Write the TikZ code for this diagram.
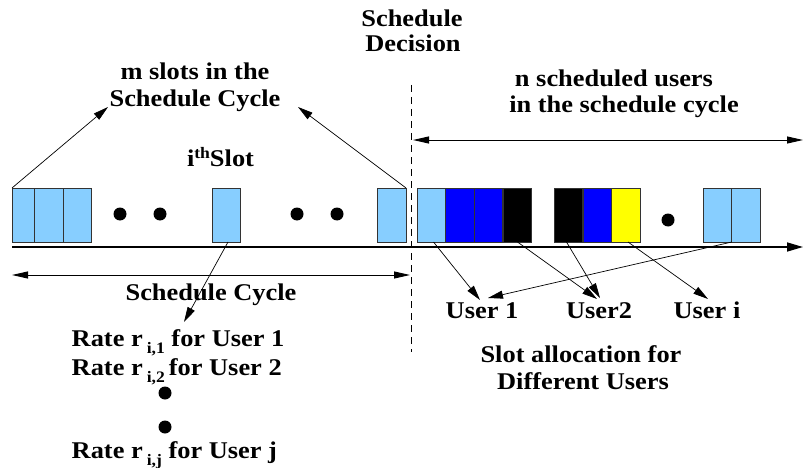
\documentclass[tikz,border=0pt]{standalone}
\usepackage{fontspec}
\setmainfont{Liberation Serif}[FakeStretch=1.1]
\usetikzlibrary{arrows.meta}
\definecolor{lb}{HTML}{87CEFF}
\definecolor{bl}{HTML}{0000FF}
\definecolor{yl}{HTML}{FFFF00}
\definecolor{edge}{HTML}{333333}
\newcommand{\subs}[1]{\raisebox{-7pt}{\fontsize{16}{16}\selectfont #1}}
\begin{document}
\begin{tikzpicture}[x=1pt,y=-1pt,
  font=\fontsize{24}{27}\selectfont\bfseries,
  slotbox/.style={draw=edge, line width=0.8pt, inner sep=0pt, outer sep=0pt, minimum height=54pt, minimum width=#1},
  slotbox/.default=28.5pt,
  dotn/.style={circle, fill=black, inner sep=0pt, minimum size=13pt},
  txt/.style={inner sep=0pt, anchor=base},
  arr/.style={line width=0.7pt, -{Triangle[length=15pt,width=8pt]}},
  darr/.style={line width=0.9pt, {Triangle[length=16pt,width=7pt]}-{Triangle[length=16pt,width=7pt]}}
]
\useasboundingbox (0,0) rectangle (803,468);

% left slots
\node[slotbox=28pt, fill=lb] (b1) at (26,215) {};
\node[slotbox=29pt, fill=lb] (b2) at (48.5,215) {};
\node[slotbox=28pt, fill=lb] (b3) at (77,215) {};
\node[slotbox=28pt, fill=lb] (b4) at (226,215) {};
\node[slotbox=29pt, fill=lb] (b5) at (391.5,215) {};
\node[dotn] (d1) at (120,214) {};
\node[dotn] (d2) at (160,214) {};
\node[dotn] (d3) at (297,214) {};
\node[dotn] (d4) at (337,214) {};

% right slots
\node[slotbox, fill=lb] (r1) at (431.5,215) {};
\node[slotbox, fill=bl] (r2) at (460,215) {};
\node[slotbox, fill=bl] (r3) at (488.5,215) {};
\node[slotbox, fill=black] (r4) at (517.5,215) {};
\node[slotbox, fill=black] (r5) at (568.5,215) {};
\node[slotbox, fill=bl] (r6) at (597.5,215) {};
\node[slotbox, fill=yl] (r7) at (626,215) {};
\node[dotn] (d5) at (668,220) {};
\node[slotbox, fill=lb] (r8) at (717.5,215) {};
\node[slotbox, fill=lb] (r9) at (746,215) {};

% axis
\coordinate (ax0) at (12,247);
\coordinate (ax1) at (803,247);
\draw[line width=1.6pt, -{Triangle[length=16pt,width=9pt]}] (ax0) -- (ax1);

% schedule decision dashed line
\coordinate (dt) at (411.5,85);
\coordinate (db) at (411.5,352);
\draw[line width=1pt, dash pattern=on 7pt off 5pt] (dt) -- (db);

% double arrows
\coordinate (sc0) at (12,275);
\coordinate (sc1) at (410,275);
\draw[darr] (sc0) -- (sc1);
\coordinate (nu0) at (413,140);
\coordinate (nu1) at (803,140);
\draw[darr] (nu0) -- (nu1);

% texts
\node[txt] (sd1) at (412,27) {Schedule};
\node[txt] (sd2) at (413,52) {Decision};
\node[txt] (ms1) at (195,80) {m slots in the};
\node[txt] (ms2) at (195,107) {Schedule Cycle};
\node[txt] (ith) at (220.5,167) {i\raisebox{9pt}{\fontsize{16}{16}\selectfont th}Slot};
\node[txt] (nu1t) at (614,87) {n scheduled users};
\node[txt] (nu2t) at (624,113) {in the schedule cycle};
\node[txt] (sct) at (211,300) {Schedule Cycle};
\node[txt, anchor=base west] (rt1) at (71.5,346.5) {Rate r\,\subs{i,1} for User 1};
\node[txt, anchor=base west] (rt2) at (71.5,375) {Rate r\,\subs{i,2}\,for User 2};
\node[dotn] (d6) at (165,393) {};
\node[dotn] (d7) at (165,427) {};
\node[txt, anchor=base west] (rt3) at (71.5,458) {Rate r\,\subs{i,j} for User j};
\node[txt] (u1) at (482,318) {User 1};
\node[txt] (u2) at (599,318) {User2};
\node[txt] (ui) at (707,318) {User i};
\node[txt] (sa1) at (581,362) {Slot allocation for};
\node[txt] (sa2) at (583,389) {Different Users};

% top arrows
\coordinate (ma) at (108,107);
\coordinate (mb) at (298,107);
\draw[arr] (b1.north west) -- (ma);
\draw[arr] (b5.north east) -- (mb);

% ith slot arrow
\coordinate (rr) at (184,322);
\draw[arr] ([xshift=2pt]b4.south) -- (rr);

% user arrows
\coordinate (t1a) at (480,300);
\coordinate (t1b) at (488,298);
\coordinate (t2a) at (597,299);
\coordinate (t2b) at (600,298);
\coordinate (tia) at (708,299);
\draw[arr] ([xshift=2pt]r1.south) -- (t1a);
\draw[arr] (r4.south) -- (t2a);
\draw[arr] ([xshift=-2pt]r5.south) -- (t2b);
\draw[arr] ([xshift=2pt]r7.south) -- (tia);
\draw[arr] (r8.south east) -- (t1b);
\end{tikzpicture}
\end{document}
